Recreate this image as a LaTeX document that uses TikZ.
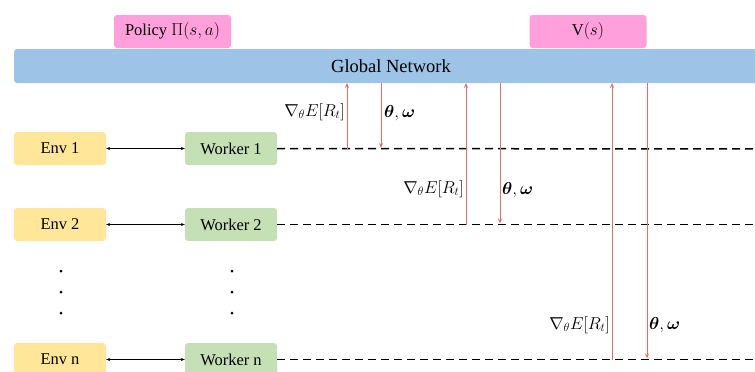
\documentclass[tikz,border=0pt]{standalone}
\usepackage{bm}
\usepackage{fontspec}
\setmainfont{Liberation Serif}
\usetikzlibrary{arrows.meta}
\definecolor{pinkbox}{HTML}{FF9FDB}
\definecolor{bluebox}{HTML}{9DC3E6}
\definecolor{envbox}{HTML}{FFE699}
\definecolor{workbox}{HTML}{C5E0B4}
\definecolor{arrowred}{HTML}{F26B6B}
\tikzset{
  box/.style={rounded corners=3pt, minimum height=33pt, inner sep=0pt, font=\fontsize{16.5}{18}\selectfont},
  envnode/.style={box, fill=envbox, minimum width=92pt},
  worknode/.style={box, fill=workbox, minimum width=92pt},
  pinknode/.style={box, fill=pinkbox, minimum width=117pt},
  dashline/.style={line width=1.5pt, dash pattern=on 8pt off 5pt},
  redarrow/.style={draw=arrowred, line width=0.8pt, -{Stealth[length=5pt,width=4pt]}},
  biarrow/.style={line width=0.5pt, {Stealth[length=4pt,width=3pt]}-{Stealth[length=4pt,width=3pt]}},
  lbl/.style={font=\fontsize{16.5}{18}\selectfont, inner sep=0pt},
  dotc/.style={circle, fill=black, inner sep=0pt, minimum size=3pt}
}
\begin{document}
\begin{tikzpicture}[x=1pt,y=-1pt]
\useasboundingbox (0,0) rectangle (755,372);
\clip (0,0) rectangle (755,372);
% top boxes
\node[pinknode] (pol) at (172.5,31.5) {Policy $\Pi(s,a)$};
\node[pinknode] (val) at (588,31.5) {V$(s)$};
\node[box, fill=bluebox, minimum width=754pt, minimum height=34pt, font=\fontsize{18.5}{20}\selectfont] (gn) at (391,66) {Global Network};
% env and workers
\node[envnode] (e1) at (60,148.5) {Env 1};
\node[worknode] (w1) at (231,148.5) {Worker 1};
\node[envnode] (e2) at (60,224.5) {Env 2};
\node[worknode] (w2) at (231,224.5) {Worker 2};
\node[envnode] (en) at (60,359.5) {Env n};
\node[worknode] (wn) at (231,359.5) {Worker n};
\draw[biarrow] (e1) -- (w1);
\draw[biarrow] (e2) -- (w2);
\draw[biarrow] (en) -- (wn);
% dots
\node[dotc] (d1) at (61,271) {};
\node[dotc] (d2) at (61,292) {};
\node[dotc] (d3) at (61,313) {};
\node[dotc] (d4) at (232,271) {};
\node[dotc] (d5) at (232,292) {};
\node[dotc] (d6) at (232,313) {};
% dashed lines
\coordinate (l1) at (755,149);
\coordinate (l2) at (755,224.5);
\coordinate (ln) at (755,359.5);
\draw[dashline] (w1.east) -- (l1);
\draw[dashline] (w2.east) -- (l2);
\draw[dashline] (wn.east) -- (ln);
% arrows worker 1
\coordinate (u1b) at (347,149); \coordinate (u1t) at (347,83);
\coordinate (d1t) at (381,83); \coordinate (d1b) at (381,148);
\draw[redarrow] (u1b) -- (u1t);
\draw[redarrow] (d1t) -- (d1b);
\node[lbl, anchor=east] (g1) at (345,112) {$\nabla_{\theta}E[R_t]$};
\node[lbl, anchor=west] (t1) at (384,113) {$\bm{\theta},\bm{\omega}$};
% arrows worker 2
\coordinate (u2b) at (466,224.5); \coordinate (u2t) at (466,83);
\coordinate (d2t) at (500,83); \coordinate (d2b) at (500,223.5);
\draw[redarrow] (u2b) -- (u2t);
\draw[redarrow] (d2t) -- (d2b);
\node[lbl, anchor=east] (g2) at (464,189) {$\nabla_{\theta}E[R_t]$};
\node[lbl, anchor=west] (t2) at (502,190) {$\bm{\theta},\bm{\omega}$};
% arrows worker n
\coordinate (unb) at (612,359.5); \coordinate (unt) at (612,83);
\coordinate (dnt) at (647,83); \coordinate (dnb) at (647,358.5);
\draw[redarrow] (unb) -- (unt);
\draw[redarrow] (dnt) -- (dnb);
\node[lbl, anchor=east] (gn2) at (610,325) {$\nabla_{\theta}E[R_t]$};
\node[lbl, anchor=west] (tn) at (649,325) {$\bm{\theta},\bm{\omega}$};
\end{tikzpicture}
\end{document}
